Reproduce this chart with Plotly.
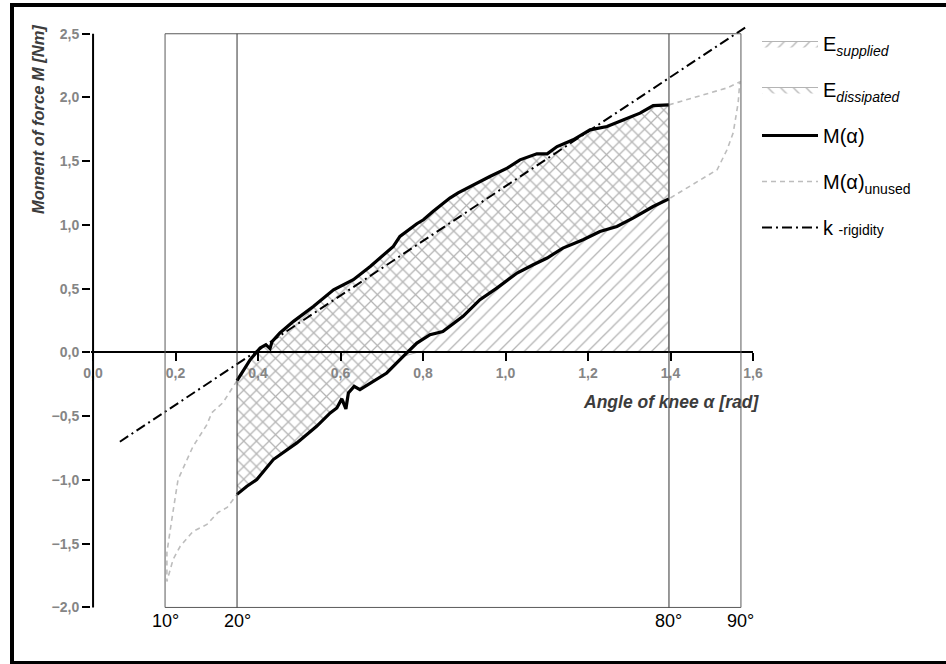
import numpy as np
import plotly.graph_objects as go

# ---------------- data ----------------
upper_alpha = [0.349, 0.381, 0.405, 0.419, 0.429, 0.434, 0.453, 0.486, 0.534, 0.583, 0.631, 0.672,
               0.728, 0.744, 0.785, 0.801, 0.824, 0.865, 0.885, 0.921, 0.962, 1.004, 1.035, 1.076,
               1.101, 1.125, 1.164, 1.205, 1.246, 1.285, 1.326, 1.358, 1.396]
upper_M = [-0.221, -0.056, 0.035, 0.061, 0.030, 0.085, 0.153, 0.244, 0.361, 0.492, 0.571, 0.675,
           0.832, 0.910, 1.010, 1.041, 1.106, 1.211, 1.252, 1.315, 1.380, 1.446, 1.511, 1.558,
           1.558, 1.615, 1.668, 1.746, 1.772, 1.824, 1.877, 1.937, 1.942]

lower_alpha = [0.349, 0.373, 0.397, 0.437, 0.494, 0.542, 0.575, 0.591, 0.603, 0.613, 0.619, 0.633,
               0.647, 0.672, 0.712, 0.752, 0.785, 0.817, 0.848, 0.897, 0.938, 0.979, 1.028, 1.067,
               1.101, 1.139, 1.188, 1.229, 1.270, 1.309, 1.358, 1.396]
lower_M = [-1.113, -1.049, -0.997, -0.840, -0.709, -0.579, -0.474, -0.435, -0.364, -0.443, -0.317, -0.266,
           -0.292, -0.239, -0.161, -0.031, 0.074, 0.139, 0.165, 0.283, 0.414, 0.505, 0.623, 0.688,
           0.741, 0.819, 0.884, 0.949, 0.988, 1.054, 1.145, 1.205]

unused_left_alpha = [0.349, 0.315, 0.288, 0.276, 0.242, 0.206, 0.192, 0.179, 0.179,
                     0.194, 0.211, 0.242, 0.276, 0.303, 0.325, 0.349]
unused_left_M = [-0.221, -0.393, -0.472, -0.566, -0.739, -0.997, -1.287, -1.569, -1.796,
                 -1.624, -1.522, -1.404, -1.349, -1.255, -1.216, -1.113]

unused_right_alpha = [1.396, 1.447, 1.496, 1.537, 1.568, 1.564, 1.552, 1.537, 1.513, 1.472, 1.430, 1.396]
unused_right_M = [1.942, 1.989, 2.036, 2.075, 2.122, 1.958, 1.723, 1.590, 1.433, 1.354, 1.276, 1.205]

k_alpha = [0.065, 1.583]
k_M = [-0.700, 2.553]

x_ticks = [0.0, 0.2, 0.4, 0.6, 0.8, 1.0, 1.2, 1.4, 1.6]
y_ticks = [-2.0, -1.5, -1.0, -0.5, 0.0, 0.5, 1.0, 1.5, 2.0, 2.5]
deg_marks = [10, 20, 80, 90]
deg_labels = ["10°", "20°", "80°", "90°"]

# ---------------- layout geometry ----------------
W, H = 946, 664
ML, MR, MT, MB = 91, 193, 21, 54
PW, PH = W - ML - MR, H - MT - MB
XR = [-0.005, 1.6]
YR = [-2.02, 2.6]


def px_to_paper_x(px):
    return (px - ML) / PW


def px_to_paper_y(py):
    return 1 - (py - MT) / PH


FONT = "Liberation Sans, Arial, sans-serif"
HATCH = "#b4b4b4"

fig = go.Figure()

# E supplied : from upper curve down to min(lower, 0)
supp_bottom = list(np.minimum(np.array(lower_M), 0.0))
fig.add_trace(go.Scatter(
    x=upper_alpha + lower_alpha[::-1],
    y=upper_M + supp_bottom[::-1],
    fill="toself", mode="lines",
    line=dict(color=HATCH, width=1),
    fillcolor="rgba(0,0,0,0)",
    fillpattern=dict(shape="/", size=9, solidity=0.14, fgcolor=HATCH, fgopacity=1),
    name="E<sub><i>supplied</i></sub>", legendgroup="a", legendrank=1, hoverinfo="skip"))

# E dissipated : between the curves
fig.add_trace(go.Scatter(
    x=upper_alpha + lower_alpha[::-1],
    y=upper_M + lower_M[::-1],
    fill="toself", mode="lines",
    line=dict(color=HATCH, width=1),
    fillcolor="rgba(0,0,0,0)",
    fillpattern=dict(shape="\\", size=9, solidity=0.14, fgcolor=HATCH, fgopacity=1),
    name="E<sub><i>dissipated</i></sub>", legendgroup="b", legendrank=2, hoverinfo="skip"))

# unused part of M(alpha)
fig.add_trace(go.Scatter(
    x=unused_left_alpha, y=unused_left_M, mode="lines",
    line=dict(color="#bdbdbd", width=1.6, dash="5px,4px"),
    name="M(α)<sub>unused</sub>", legendgroup="d", showlegend=False))
fig.add_trace(go.Scatter(
    x=unused_right_alpha, y=unused_right_M, mode="lines",
    line=dict(color="#bdbdbd", width=1.6, dash="5px,4px"),
    name="M(α)<sub>unused</sub>", legendgroup="d", showlegend=True, legendrank=4))

# M(alpha)
fig.add_trace(go.Scatter(
    x=upper_alpha, y=upper_M, mode="lines",
    line=dict(color="black", width=3.2),
    name="M(α)", legendgroup="c", legendrank=3))
fig.add_trace(go.Scatter(
    x=lower_alpha, y=lower_M, mode="lines",
    line=dict(color="black", width=3.2),
    name="M(α)", legendgroup="c", showlegend=False))

# k rigidity
fig.add_trace(go.Scatter(
    x=k_alpha, y=k_M, mode="lines",
    line=dict(color="black", width=2, dash="10px,4px,2px,4px"),
    name="k <span style='font-size:14px'>-rigidity</span>", legendgroup="e", legendrank=5))

shapes = []
r = np.deg2rad(deg_marks)
# box 10..90 deg
shapes.append(dict(type="rect", xref="x", yref="y", x0=r[0], x1=r[3], y0=y_ticks[0], y1=y_ticks[-1],
                   line=dict(color="#5a5a5a", width=1), layer="above"))
for v in (r[1], r[2]):
    shapes.append(dict(type="line", xref="x", yref="y", x0=v, x1=v, y0=y_ticks[0], y1=y_ticks[-1],
                       line=dict(color="#333333", width=1), layer="above"))
# y axis line (x = 0) from -2.0 to 2.5
shapes.append(dict(type="line", xref="x", yref="y", x0=0, x1=0, y0=y_ticks[0], y1=y_ticks[-1],
                   line=dict(color="black", width=2), layer="above"))
# outer frame
shapes.append(dict(type="rect", xref="paper", yref="paper",
                   x0=px_to_paper_x(12), x1=px_to_paper_x(952),
                   y0=px_to_paper_y(663), y1=px_to_paper_y(5),
                   line=dict(color="black", width=4)))

annotations = []
for v, t in zip(r, deg_labels):
    annotations.append(dict(x=v, y=y_ticks[0], xref="x", yref="y", text=t, showarrow=False,
                            xanchor="center", yanchor="top", yshift=-2,
                            font=dict(family=FONT, size=18, color="black")))
annotations.append(dict(x=XR[1], y=0, xref="x", yref="y", xanchor="right", yanchor="middle",
                        yshift=-50, xshift=8,
                        text="<b><i>Angle of knee α [rad]</i></b>", showarrow=False,
                        font=dict(family=FONT, size=17.5, color="#3c3c3c")))
annotations.append(dict(x=px_to_paper_x(38), y=px_to_paper_y(120), xref="paper", yref="paper",
                        xanchor="center", yanchor="middle",
                        text="<b><i>Moment of force M [Nm]</i></b>", textangle=-90, showarrow=False,
                        font=dict(family=FONT, size=16.5, color="#3c3c3c")))

x_pos = (0 - YR[0]) / (YR[1] - YR[0])

fig.update_layout(
    width=W, height=H, autosize=False,
    margin=dict(l=ML, r=MR, t=MT, b=MB, pad=0),
    paper_bgcolor="white", plot_bgcolor="white",
    separators=",.",
    font=dict(family=FONT, color="black"),
    shapes=shapes, annotations=annotations,
    xaxis=dict(range=XR, anchor="free", position=x_pos, showline=True, linecolor="black", linewidth=2,
               tickvals=x_ticks, tickformat=".1f", ticks="outside", ticklen=8, tickwidth=2,
               tickcolor="black", showgrid=False, zeroline=False, automargin=False,
               tickfont=dict(family=FONT, size=14, color="#858585", weight="bold")),
    yaxis=dict(range=YR, showline=False, tickvals=y_ticks, tickformat=".1f", ticks="outside",
               ticklen=8, tickwidth=2, tickcolor="black", showgrid=False, zeroline=False,
               automargin=False,
               tickfont=dict(family=FONT, size=14, color="#858585", weight="bold")),
    legend=dict(x=px_to_paper_x(757), y=px_to_paper_y(24), xanchor="left", yanchor="top",
                font=dict(family=FONT, size=20, color="black"), itemwidth=56,
                tracegroupgap=17, bgcolor="rgba(0,0,0,0)", traceorder="grouped"),
    showlegend=True,
)

fig.write_html("out.html")
